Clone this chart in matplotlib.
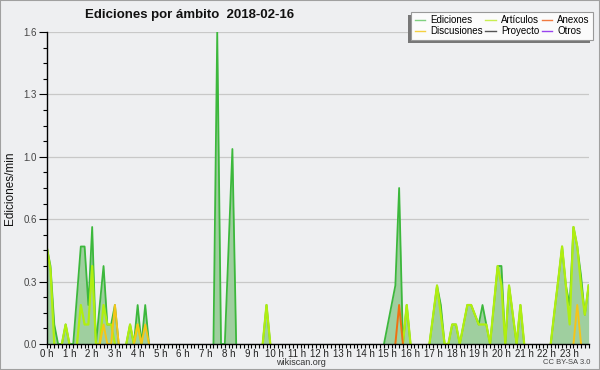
import numpy as np
import matplotlib
matplotlib.use("Agg")
import matplotlib.pyplot as plt
from matplotlib.lines import Line2D
from matplotlib.patches import Rectangle
from matplotlib.ticker import FixedLocator, MultipleLocator, FuncFormatter

# --- data: edits per minute in 10-minute bins, one row per hour ---
ediciones = [
    0.5, 0.4, 0.1, 0, 0, 0.1,
    0, 0, 0.25, 0.5, 0.5, 0.2,
    0.6, 0, 0.2, 0.4, 0.1, 0.1,
    0.2, 0, 0, 0, 0.1, 0,
    0.2, 0, 0.2, 0, 0, 0,
    0, 0, 0, 0, 0, 0,
    0, 0, 0, 0, 0, 0,
    0, 0, 0, 1.6, 0, 0,
    0.5, 1.0, 0, 0, 0, 0,
    0, 0, 0, 0, 0.2, 0,
    0, 0, 0, 0, 0, 0,
    0, 0, 0, 0, 0, 0,
    0, 0, 0, 0, 0, 0,
    0, 0, 0, 0, 0, 0,
    0, 0, 0, 0, 0, 0,
    0.1, 0.2, 0.3, 0.8, 0, 0.2,
    0, 0, 0, 0, 0, 0,
    0.15, 0.3, 0.2, 0, 0, 0.1,
    0.1, 0, 0.1, 0.2, 0.2, 0.15,
    0.1, 0.2, 0.1, 0, 0.2, 0.4,
    0.4, 0, 0.3, 0.15, 0, 0.2,
    0, 0, 0, 0, 0, 0,
    0, 0, 0.17, 0.33, 0.5, 0.3,
    0.2, 0.6, 0.5, 0.35, 0.15, 0.3,
]
articulos = [
    0.5, 0.38, 0, 0, 0, 0.1,
    0, 0, 0, 0.2, 0.1, 0.1,
    0.4, 0, 0, 0.2, 0.1, 0.1,
    0, 0, 0, 0, 0.1, 0,
    0.1, 0, 0, 0, 0, 0,
    0, 0, 0, 0, 0, 0,
    0, 0, 0, 0, 0, 0,
    0, 0, 0, 0, 0, 0,
    0, 0, 0, 0, 0, 0,
    0, 0, 0, 0, 0.2, 0,
    0, 0, 0, 0, 0, 0,
    0, 0, 0, 0, 0, 0,
    0, 0, 0, 0, 0, 0,
    0, 0, 0, 0, 0, 0,
    0, 0, 0, 0, 0, 0,
    0, 0, 0, 0, 0, 0.2,
    0, 0, 0, 0, 0, 0,
    0.15, 0.3, 0.15, 0, 0, 0.1,
    0.1, 0, 0.1, 0.2, 0.2, 0.15,
    0.1, 0.1, 0.1, 0, 0.2, 0.4,
    0.3, 0, 0.3, 0.15, 0, 0.2,
    0, 0, 0, 0, 0, 0,
    0, 0, 0.17, 0.33, 0.5, 0.3,
    0.1, 0.6, 0.5, 0.3, 0.15, 0.3,
]
discusiones_bins = [15, 18, 24, 26, 140]
discusiones_vals = [0.1, 0.2, 0.1, 0.1, 0.2]
anexos_bins = [93]
anexos_vals = [0.2]
proyecto = [0] * 144
otros = [0] * 144

hour_labels = [f"{h} h" for h in range(24)]
y_ticks = [0, 0.32, 0.64, 0.96, 1.28, 1.6]

title = "Ediciones por ámbito  2018-02-16"
ylabel = "Ediciones/min"

FONT = ["Liberation Sans", "DejaVu Sans"]
plt.rcParams["font.family"] = FONT

n = len(ediciones)
x = np.arange(n)
ed = np.array(ediciones, float)
ar = np.array(articulos, float)
di = np.zeros(n); di[discusiones_bins] = discusiones_vals
an = np.zeros(n); an[anexos_bins] = anexos_vals
pr = np.array(proyecto, float)
ot = np.array(otros, float)


def hide_zero_runs(v):
    z = v == 0
    left = np.r_[True, z[:-1]]
    right = np.r_[z[1:], True]
    out = v.astype(float).copy()
    out[z & left & right] = np.nan
    return out


BG = "#eeeff1"
fig = plt.figure(figsize=(6, 3.7), dpi=100, facecolor=BG)
ax = fig.add_axes([46.7 / 600, 1 - 344 / 370, (589 - 46.7) / 600, (344 - 32) / 370])
ax.set_facecolor(BG)

ax.fill_between(x, 0, ed, color="#9fcf9f", linewidth=0, zorder=2)
ax.plot(x, hide_zero_runs(ed), color="#3cb83c", lw=1.3, zorder=3)
ax.plot(x, hide_zero_runs(ar), color="#b0ee10", lw=1.6, zorder=4)
ax.plot(x, hide_zero_runs(di), color="#f5c518", lw=1.4, zorder=5)
ax.plot(x, hide_zero_runs(an), color="#f07010", lw=1.4, zorder=6)
ax.plot(x, hide_zero_runs(pr), color="#555555", lw=1.2, zorder=6)
ax.plot(x, hide_zero_runs(ot), color="#9933ee", lw=1.2, zorder=6)

ax.set_xlim(0, 143.1)
ax.set_ylim(0, 1.6)

ax.yaxis.set_major_locator(FixedLocator(y_ticks))
ax.yaxis.set_major_formatter(FuncFormatter(lambda v, p: f"{v:.1f}"))
ax.yaxis.set_minor_locator(MultipleLocator(0.08))
ax.xaxis.set_major_locator(FixedLocator(np.arange(0, 144, 6)))
ax.set_xticklabels(hour_labels)
ax.xaxis.set_minor_locator(MultipleLocator(1))

ax.grid(axis="y", which="major", color="#c8c8c8", lw=0.9, zorder=1)
for s in ["top", "right"]:
    ax.spines[s].set_visible(False)
for s in ["left", "bottom"]:
    ax.spines[s].set_color("black")
    ax.spines[s].set_linewidth(1.0)
    ax.spines[s].set_zorder(10)

ax.tick_params(axis="y", which="major", length=6, width=0.8, labelsize=7, colors="black", labelcolor="#444444", pad=1)
ax.tick_params(axis="y", which="minor", length=3, width=0.8, colors="black")
ax.tick_params(axis="x", which="major", length=3, width=0.8, labelsize=7, labelcolor="#222222", pad=0.5)
ax.tick_params(axis="x", which="minor", length=3, width=0.8)

fig.text(85 / 600, 1 - 15 / 370, title, fontsize=9.5, fontweight="bold", ha="left", va="center", color="#111111")
fig.text(10 / 600, 1 - 188 / 370, ylabel, fontsize=8.5, rotation=90, ha="center", va="center", color="#111111")
fig.text(301 / 600, 1 - 362.5 / 370, "wikiscan.org", fontsize=6.5, ha="center", va="center", color="#333333")
fig.text(590 / 600, 1 - 362.5 / 370, "CC BY-SA 3.0", fontsize=5.5, ha="right", va="center", color="#444444")

handles = [
    Line2D([], [], color="#7fd07f", lw=1),
    Line2D([], [], color="#f5d040", lw=1),
    Line2D([], [], color="#c8ee50", lw=1),
    Line2D([], [], color="#555555", lw=1),
    Line2D([], [], color="#f07a40", lw=1),
    Line2D([], [], color="#9944ee", lw=1),
]
labels = ["Ediciones", "Discusiones", "Artículos", "Proyecto", "Anexos", "Otros"]
leg = fig.legend(handles, labels, ncol=3, loc="upper right", bbox_to_anchor=(593 / 600, 1 - 12 / 370),
                 fontsize=7, frameon=True, fancybox=False, framealpha=1, facecolor="#fbfbfb",
                 edgecolor="#999999", handlelength=1.1, handletextpad=0.5, columnspacing=0.25,
                 borderpad=0.35, labelspacing=0.1, borderaxespad=0)
leg.get_frame().set_linewidth(0.8)
leg.set_zorder(20)

fig.canvas.draw()
bb = leg.get_window_extent().transformed(fig.transFigure.inverted())
shadow = Rectangle((bb.x0 - 3 / 600, bb.y0 - 3 / 370), bb.width, bb.height, transform=fig.transFigure,
                   facecolor="#777777", edgecolor="none", zorder=19)
fig.add_artist(shadow)

border = Rectangle((0, 0), 1, 1, transform=fig.transFigure, fill=False, edgecolor="#a0a0a0", lw=1.5, zorder=30)
fig.add_artist(border)

fig.savefig("out.png", dpi=100, facecolor=BG)
